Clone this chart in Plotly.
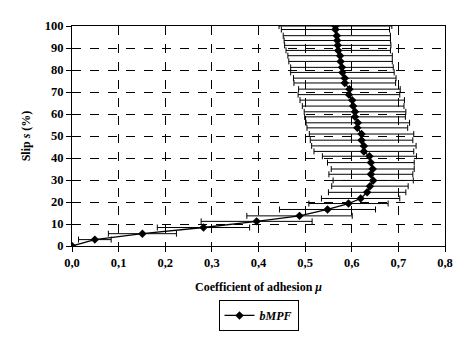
import plotly.graph_objects as go

# Data
slip = [0.0, 2.9, 5.6, 8.4, 11.2, 13.7, 16.6, 19.3, 21.6, 24.4, 27.2, 29.8, 32.6, 35.0,
        37.9, 40.8, 43.0, 45.5, 48.1, 50.9, 53.7, 56.0, 58.7, 61.0, 63.6, 66.3, 68.8,
        71.3, 74.1, 76.3, 78.9, 81.2, 83.9, 86.5, 88.9, 91.2, 93.4, 95.6, 98.4, 100.0]
mu = [0.000, 0.049, 0.151, 0.282, 0.396, 0.488, 0.548, 0.593, 0.619, 0.633, 0.639, 0.646,
      0.641, 0.645, 0.641, 0.638, 0.626, 0.626, 0.621, 0.621, 0.612, 0.613, 0.607, 0.607,
      0.603, 0.601, 0.594, 0.595, 0.585, 0.585, 0.580, 0.579, 0.576, 0.575, 0.571, 0.570,
      0.569, 0.568, 0.565, 0.565]
mu_err = [0.000, 0.035, 0.073, 0.099, 0.119, 0.113, 0.103, 0.085, 0.084, 0.083, 0.082, 0.086,
          0.090, 0.089, 0.093, 0.101, 0.107, 0.112, 0.110, 0.112, 0.108, 0.111, 0.108, 0.109,
          0.109, 0.112, 0.109, 0.109, 0.109, 0.110, 0.111, 0.110, 0.111, 0.112, 0.112, 0.114,
          0.114, 0.115, 0.116, 0.121]
x_ticks = [0.0, 0.1, 0.2, 0.3, 0.4, 0.5, 0.6, 0.7, 0.8]
y_ticks = [0, 10, 20, 30, 40, 50, 60, 70, 80, 90, 100]
series_name = "<b><i>bMPF</i></b>"

FONT = "Liberation Serif"

fig = go.Figure()
fig.add_trace(go.Scatter(
    x=mu, y=slip, mode="lines+markers", name=series_name,
    line=dict(color="black", width=1.3),
    marker=dict(symbol="diamond", size=6.5, color="black"),
    error_x=dict(type="data", array=mu_err, visible=True, color="black",
                 thickness=1, width=3),
    cliponaxis=True,
))

axis_common = dict(
    showline=True, linecolor="black", linewidth=1, mirror=True,
    showgrid=True, gridcolor="black", griddash="dash", gridwidth=1,
    ticks="outside", ticklen=5, tickcolor="black", tickwidth=1,
    zeroline=False,
    tickfont=dict(family=FONT, size=12.5, color="black", weight="bold"),
)

fig.update_xaxes(
    range=[0, 0.8], tickvals=x_ticks, tickformat=".1f",
    title=dict(text="<b>Coefficient of adhesion <i>μ</i></b>",
               font=dict(family=FONT, size=12, color="black"), standoff=13),
    **axis_common,
)
fig.update_yaxes(
    range=[0, 100], tickvals=y_ticks,
    title=dict(text="<b>Slip <i>s</i> (%)</b>",
               font=dict(family=FONT, size=12, color="black"), standoff=11),
    **axis_common,
)

fig.update_layout(
    width=471, height=344,
    margin=dict(l=72, r=26, t=26, b=98),
    paper_bgcolor="white", plot_bgcolor="white",
    separators=", ",
    showlegend=True,
    legend=dict(
        x=0.5, xanchor="center", y=-0.245, yanchor="top",
        bordercolor="black", borderwidth=1, bgcolor="white",
        font=dict(family=FONT, size=12, color="black"),
        itemwidth=30,
    ),
)

fig.write_html("out.html")
